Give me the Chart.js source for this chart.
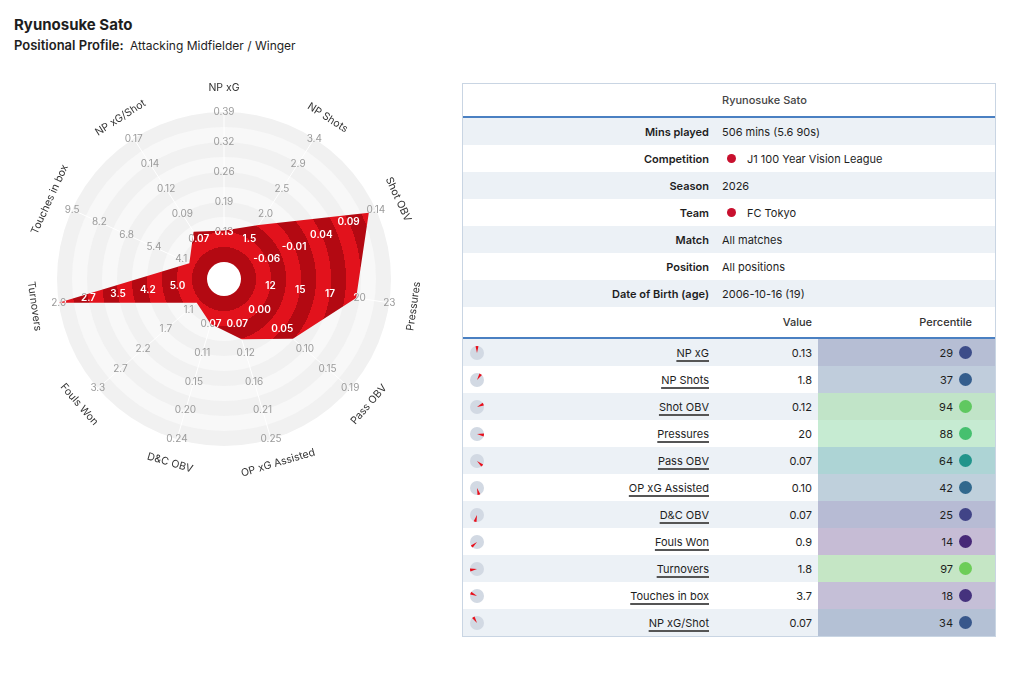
<!DOCTYPE html>
<html>
<head>
<meta charset="utf-8">
<script src="https://cdn.jsdelivr.net/npm/chart.js@4/dist/chart.umd.min.js"></script>
<style>
  body { margin: 0; width: 1024px; height: 695px; background: #fff; position: relative; overflow: hidden;
         font-family: Inter, 'Noto Sans', sans-serif; color: #1e1e1e; }
  #title { position: absolute; left: 14px; top: 15px; font-size: 15px; font-weight: 700; }
  #subtitle { position: absolute; left: 14px; top: 37px; font-size: 12px; }
  #subtitle b { font-weight: 600; font-size: 13px; margin-right: 3px; }
  #radar { position: absolute; left: 4px; top: 59px; }
  #panel { position: absolute; left: 462px; top: 83px; width: 532px; border: 1px solid #c9d5e3; font-size: 11px; }
  .row { display: flex; align-items: center; height: 27px; }
  .alt { background: #ecf1f6; }
  .head { height: 32px; border-bottom: 2px solid #4a80c2; }
  .head span { padding-left: 259px; font-weight: 500; color: #444; }
  .lab { width: 246px; text-align: right; font-weight: 600; }
  .val { padding-left: 13px; display: flex; align-items: center; }
  .dot { width: 9px; height: 9px; border-radius: 50%; background: #c8102e; margin-left: 5px; margin-right: 11px; }
  .mhead { height: 30px; border-bottom: 2px solid #4a80c2; font-weight: 500; color: #333; }
  .ico { width: 40px; padding-left: 7px; box-sizing: border-box; display: flex; align-items: center; }
  .name { width: 206px; text-align: right; }
  .name span { text-decoration: underline; text-decoration-thickness: 1.5px; text-underline-offset: 3px; text-decoration-color: #555; }
  .mval { width: 109px; text-align: right; padding-right: 6px; box-sizing: border-box; }
  .pct { flex: 1; height: 100%; display: flex; align-items: center; justify-content: flex-end; padding-right: 23px; }
  .pdot { width: 13px; height: 13px; border-radius: 50%; margin-left: 6px; }
</style>
</head>
<body>
<div id="title"></div>
<div id="subtitle"><b>Positional Profile:</b> <span id="position"></span></div>
<canvas id="radar" width="440" height="440"></canvas>
<div id="panel"></div>

<script>
const playerName = 'Ryunosuke Sato';
const positionName = 'Attacking Midfielder / Winger';

const metrics = ['NP xG', 'NP Shots', 'Shot OBV', 'Pressures', 'Pass OBV', 'OP xG Assisted',
  'D&C OBV', 'Fouls Won', 'Turnovers', 'Touches in box', 'NP xG/Shot'];
const values = [0.133, 1.77, 0.124, 19.9, 0.07, 0.097, 0.07, 0.9, 1.8, 3.7, 0.074];
const decimals = [2, 1, 2, 0, 2, 2, 2, 1, 1, 1, 2];
const percentiles = [29, 37, 94, 88, 64, 42, 25, 14, 97, 18, 34];

// value at the first and at the last ring of each spoke (Turnovers runs backwards)
const ringLow = [0.13, 1.5, -0.063, 11.9, 0.0, 0.074, 0.07, 1.1, 5.0, 4.1, 0.066];
const ringHigh = [0.39, 3.4, 0.137, 23, 0.19, 0.25, 0.24, 3.3, 2.0, 9.5, 0.17];
const tickLabels = [
  ['0.13', '0.19', '0.26', '0.32', '0.39'],
  ['1.5', '2.0', '2.5', '2.9', '3.4'],
  ['-0.06', '-0.01', '0.04', '0.09', '0.14'],
  ['12', '15', '17', '20', '23'],
  ['0.00', '0.05', '0.10', '0.15', '0.19'],
  ['0.07', '0.12', '0.16', '0.21', '0.25'],
  ['0.07', '0.11', '0.15', '0.20', '0.24'],
  ['1.1', '1.7', '2.2', '2.7', '3.3'],
  ['5.0', '4.2', '3.5', '2.7', '2.0'],
  ['4.1', '5.4', '6.8', '8.2', '9.5'],
  ['0.07', '0.09', '0.12', '0.14', '0.17']
];

const infoLabels = ['Mins played', 'Competition', 'Season', 'Team', 'Match', 'Position', 'Date of Birth (age)'];
const infoValues = ['506 mins (5.6 90s)', 'J1 100 Year Vision League', '2026', 'FC Tokyo',
  'All matches', 'All positions', '2006-10-16 (19)'];
const infoDots = [false, true, false, true, false, false, false];

// ---- header + table ----
document.getElementById('title').textContent = playerName;
document.getElementById('position').textContent = positionName;

const viridisStops = ['#440154', '#482475', '#414487', '#355f8d', '#2a788e', '#21918c',
  '#22a884', '#44bf70', '#7ad151', '#bddf26', '#fde725'];
function hexRgb(h) {
  return [1, 3, 5].map(i => parseInt(h.slice(i, i + 2), 16));
}
function viridis(t) {
  const x = Math.max(0, Math.min(1, t)) * 10;
  const i = Math.min(9, Math.floor(x));
  const a = hexRgb(viridisStops[i]), b = hexRgb(viridisStops[i + 1]);
  return a.map((v, k) => Math.round(v + (b[k] - v) * (x - i)));
}

function pieIcon(i) {
  const n = metrics.length;
  const mid = i * 2 * Math.PI / n - Math.PI / 2;
  const half = 0.21;
  const pt = a => `${(7 + 7 * Math.cos(a)).toFixed(2)} ${(7 + 7 * Math.sin(a)).toFixed(2)}`;
  return `<svg width="14" height="14" viewBox="0 0 14 14"><circle cx="7" cy="7" r="7" fill="#d2d9e3"/>` +
    `<path d="M7 7 L${pt(mid - half)} A7 7 0 0 1 ${pt(mid + half)} Z" fill="#e8101c"/></svg>`;
}

let html = `<div class="row head"><span>${playerName}</span></div>`;
infoLabels.forEach((lab, i) => {
  html += `<div class="row${i % 2 === 0 ? ' alt' : ''}"><div class="lab">${lab}</div>` +
    `<div class="val">${infoDots[i] ? '<span class="dot"></span>' : ''}${infoValues[i]}</div></div>`;
});
html += `<div class="row mhead"><div style="width:246px"></div><div class="mval">Value</div>` +
  `<div class="pct" style="height:auto">Percentile</div></div>`;
metrics.forEach((m, i) => {
  const c = viridis(percentiles[i] / 100 * 0.8);
  html += `<div class="row${i % 2 === 0 ? ' alt' : ''}">` +
    `<div class="ico">${pieIcon(i)}</div>` +
    `<div class="name"><span>${m.replace('&', '&amp;')}</span></div>` +
    `<div class="mval">${values[i].toFixed(decimals[i])}</div>` +
    `<div class="pct" style="background:rgba(${c.join(',')},0.31)">${percentiles[i]}` +
    `<span class="pdot" style="background:rgb(${c.join(',')})"></span></div></div>`;
});
document.getElementById('panel').innerHTML = html;

// ---- radar ----
// every spoke is drawn in ring units: 0 = edge of the centre hole, 1..5 = the labelled rings
const ringPos = values.map((v, i) => {
  const p = 1 + 4 * (v - ringLow[i]) / (ringHigh[i] - ringLow[i]);
  return Math.max(0, Math.min(5, p));
});

const ringPx = 30;
const holePx = 17;
const canvasHalf = 220;
const redDark = '#b30912';
const redBright = '#e2121c';

function bandFill(context) {
  const s = context.chart.scales.r;
  if (!s || s.xCenter === undefined) return redBright;
  const ctx = context.chart.ctx;
  const outer = s.getDistanceFromCenterForValue(5);
  const g = ctx.createRadialGradient(s.xCenter, s.yCenter, 0, s.xCenter, s.yCenter, outer);
  for (let k = 0; k < 10; k++) {
    const c = k % 2 ? redBright : redDark;
    g.addColorStop(k === 0 ? 0 : s.getDistanceFromCenterForValue(k / 2) / outer, c);
    g.addColorStop(s.getDistanceFromCenterForValue((k + 1) / 2) / outer, c);
  }
  return g;
}

function drawTicks(ctx, s, color, weight) {
  ctx.font = `${weight} 10px Inter`;
  ctx.fillStyle = color;
  ctx.textAlign = 'center';
  ctx.textBaseline = 'middle';
  tickLabels.forEach((labels, i) => {
    labels.forEach((t, k) => {
      const p = s.getPointPositionForValue(i, k + 1);
      ctx.fillText(t, p.x, p.y);
    });
  });
}

const radarDecor = {
  id: 'radarDecor',
  beforeDatasetsDraw(chart) {
    const s = chart.scales.r;
    const ctx = chart.ctx;
    ctx.save();
    for (let k = 9; k >= 0; k--) {
      ctx.beginPath();
      ctx.arc(s.xCenter, s.yCenter, s.getDistanceFromCenterForValue((k + 1) / 2), 0, Math.PI * 2);
      ctx.fillStyle = k % 2 ? '#f1f1f1' : '#f8f8f8';
      ctx.fill();
    }
    ctx.strokeStyle = '#ffffff';
    ctx.lineWidth = 1;
    metrics.forEach((m, i) => {
      const a = s.getPointPositionForValue(i, 0);
      const b = s.getPointPositionForValue(i, 5);
      ctx.beginPath();
      ctx.moveTo(a.x, a.y);
      ctx.lineTo(b.x, b.y);
      ctx.stroke();
    });
    drawTicks(ctx, s, '#9b9b9b', '400');
    ctx.restore();
  },
  afterDatasetsDraw(chart) {
    const s = chart.scales.r;
    const ctx = chart.ctx;
    const pts = chart.getDatasetMeta(0).data;

    // labels that sit inside the shape turn white
    ctx.save();
    ctx.beginPath();
    pts.forEach((p, i) => (i ? ctx.lineTo(p.x, p.y) : ctx.moveTo(p.x, p.y)));
    ctx.closePath();
    ctx.clip();
    drawTicks(ctx, s, '#ffffff', '600');
    ctx.restore();

    ctx.save();
    ctx.beginPath();
    ctx.arc(s.xCenter, s.yCenter, s.getDistanceFromCenterForValue(0), 0, Math.PI * 2);
    ctx.fillStyle = '#ffffff';
    ctx.fill();

    // metric names, turned along the circle
    ctx.font = '10.5px Inter';
    ctx.fillStyle = '#333333';
    ctx.textAlign = 'center';
    ctx.textBaseline = 'middle';
    metrics.forEach((m, i) => {
      const p = s.getPointPositionForValue(i, 5.82);
      let rot = i * 2 * Math.PI / metrics.length;
      if (rot > Math.PI / 2 && rot < Math.PI * 1.5) rot -= Math.PI;
      ctx.save();
      ctx.translate(p.x, p.y);
      ctx.rotate(rot);
      ctx.fillText(m, 0, 0);
      ctx.restore();
    });
    ctx.restore();
  }
};

new Chart(document.getElementById('radar'), {
  type: 'radar',
  data: {
    labels: metrics,
    datasets: [{
      data: ringPos,
      backgroundColor: bandFill,
      borderWidth: 0,
      pointRadius: 0,
      fill: 'start'
    }]
  },
  options: {
    responsive: false,
    animation: false,
    events: [],
    plugins: { legend: { display: false }, tooltip: { enabled: false } },
    scales: {
      r: {
        min: -holePx / ringPx,
        max: (canvasHalf - holePx) / ringPx,
        ticks: { display: false },
        grid: { display: false },
        angleLines: { display: false },
        pointLabels: { display: false }
      }
    }
  },
  plugins: [radarDecor]
});
</script>
</body>
</html>
